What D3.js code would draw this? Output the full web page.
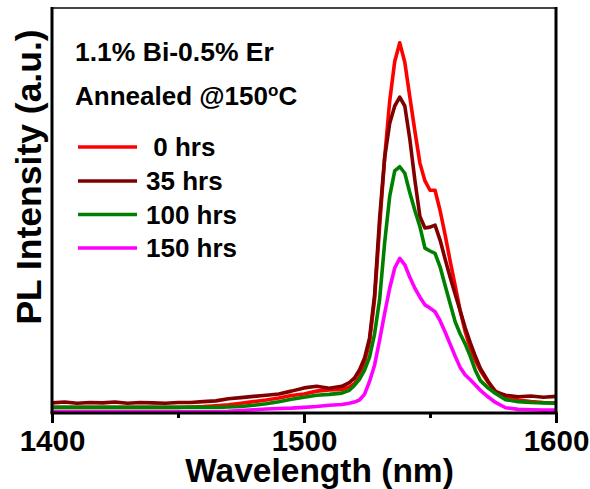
<!DOCTYPE html>
<html>
<head>
<meta charset="utf-8">
<script src="https://cdn.jsdelivr.net/npm/d3@7"></script>
<style>
  body { margin: 0; background: #fff; }
  svg { display: block; }
  text { font-family: "Liberation Sans", Arial, sans-serif; font-weight: bold; fill: #000; }
</style>
</head>
<body>
<div id="chart"></div>
<script>
// wavelength grid (nm) shared by all spectra
var wavelength = [1400,1405,1410,1415,1420,1425,1430,1435,1440,1445,1450,1455,1460,1465,1470,1475,1480,1485,1490,1495,1500,1505,1510,1515,
  1518,1520,1522,1524,1526,1528,1530,1532,1534,1536,1538,1540,1542,1544,1546,1548,1550,1552,1554,1556,1558,1560,1562,1564,1566,1568,1570,
  1573,1576,1580,1585,1590,1595,1600];

// PL intensity (a.u.)
var pl0 = [1.4,1.4,1.4,1.4,1.4,1.4,1.4,1.4,1.4,1.4,1.4,1.5,1.6,1.8,2.0,2.4,2.8,3.2,3.7,4.3,4.7,5.4,5.7,5.8,
  6.4,7.2,9.0,12.5,17.5,28,46,63,77,86.8,91.4,86.6,78,69.6,61.7,57.3,55,55,50,44,37.5,31.4,25.2,20,16,13,10.5,
  7.6,5.4,4.1,3.2,2.8,2.6,2.5];
var pl35 = [2.5,2.7,2.4,2.6,2.5,2.7,2.4,2.6,2.5,2.4,2.6,2.6,2.8,3.0,3.5,3.8,4.1,4.4,4.7,5.4,6.2,6.6,6.1,6.6,
  7.5,8.6,10.6,13.5,18.5,29,48,63,71.5,75.8,78,75.8,67.6,57.5,48.5,45.7,45.9,46.4,42.7,38,33.5,29.3,25.2,21,17.3,14,11,
  7.9,5.2,4.4,4.0,4.2,3.9,4.1];
var pl100 = [1.4,1.4,1.4,1.4,1.4,1.4,1.4,1.4,1.4,1.4,1.4,1.4,1.4,1.4,1.5,1.6,1.9,2.3,2.8,3.4,3.9,4.4,4.6,4.9,
  5.6,6.8,8.3,10.5,13.8,19.5,28,42,53.5,59.8,60.8,59.2,54.4,50,46,40.7,40,39.4,36.1,31.5,27,22.5,19.5,17,14,10.5,8,
  6.2,4.8,3.3,2.8,2.6,2.5,2.4];
var pl150 = [0.3,0.3,0.3,0.3,0.3,0.3,0.3,0.3,0.3,0.3,0.3,0.3,0.3,0.3,0.4,0.6,0.8,1.0,1.1,1.2,1.4,1.6,1.9,2.1,
  2.4,2.7,3.2,4.6,7.8,11.8,18,24.6,30.8,35.8,38.2,36.6,33.5,30.8,28.6,26.7,25.9,25,22.8,20,17,14,11.2,9.4,8.2,6.9,5.6,
  4.0,2.6,1.3,0.9,0.8,0.7,0.7];

var seriesNames = [" 0 hrs", "35 hrs", "100 hrs", "150 hrs"];
var seriesColors = ["#ff0000", "#800000", "#008000", "#ff00ff"];
var seriesValues = [pl0, pl35, pl100, pl150];
var majorTicks = [1400, 1500, 1600];
var minorTicks = [1450, 1550];

var width = 590, height = 489;
var plotLeft = 52, plotRight = 556, plotTop = 8, plotBottom = 413;

var svg = d3.select("#chart").append("svg")
  .attr("width", width)
  .attr("height", height);

var x = d3.scaleLinear().domain([1400, 1600]).range([plotLeft, plotRight]);
var y = d3.scaleLinear().domain([0, 100]).range([plotBottom, plotTop]);

svg.append("clipPath").attr("id", "plotclip")
  .append("rect").attr("x", plotLeft).attr("y", plotTop)
  .attr("width", plotRight - plotLeft).attr("height", plotBottom - plotTop);

var line = d3.line()
  .x(function(d) { return x(d[0]); })
  .y(function(d) { return y(d[1]); });

var g = svg.append("g").attr("clip-path", "url(#plotclip)");
seriesValues.forEach(function(vals, i) {
  var pts = wavelength.map(function(w, j) { return [w, vals[j]]; });
  g.append("path")
    .datum(pts)
    .attr("d", line)
    .attr("fill", "none")
    .attr("stroke", seriesColors[i])
    .attr("stroke-width", 3.6)
    .attr("stroke-linejoin", "round");
});

// frame
svg.append("line").attr("x1", plotLeft).attr("x2", plotRight).attr("y1", plotTop).attr("y2", plotTop)
  .attr("stroke", "#444").attr("stroke-width", 2);
svg.append("line").attr("x1", plotRight).attr("x2", plotRight).attr("y1", plotTop - 1).attr("y2", plotBottom)
  .attr("stroke", "#000").attr("stroke-width", 3);
svg.append("line").attr("x1", plotLeft).attr("x2", plotLeft).attr("y1", plotTop - 1).attr("y2", plotBottom)
  .attr("stroke", "#000").attr("stroke-width", 3);

// x axis
var xAxis = svg.append("g")
  .attr("transform", "translate(0," + plotBottom + ")")
  .call(d3.axisBottom(x).tickValues(majorTicks).tickSize(10).tickPadding(9).tickFormat(d3.format("d")));
xAxis.select(".domain").attr("stroke-width", 3).attr("d", "M" + (plotLeft - 1.5) + ",0H" + (plotRight + 1.5));
xAxis.selectAll(".tick line").attr("stroke-width", 3);
xAxis.selectAll(".tick text")
  .attr("font-size", 29.5)
  .attr("dy", null)
  .attr("y", 38)
  .style("font-family", "'Liberation Sans', Arial, sans-serif")
  .style("font-weight", "bold");

var minor = svg.append("g")
  .attr("transform", "translate(0," + plotBottom + ")")
  .call(d3.axisBottom(x).tickValues(minorTicks).tickSize(5).tickFormat(""));
minor.select(".domain").remove();
minor.selectAll(".tick line").attr("stroke-width", 3);

// axis titles
svg.append("text")
  .attr("x", 319.5)
  .attr("y", 482)
  .attr("text-anchor", "middle")
  .attr("font-size", 33.5)
  .text("Wavelength (nm)");

svg.append("text")
  .attr("transform", "translate(41,177) rotate(-90)")
  .attr("text-anchor", "middle")
  .attr("font-size", 35.5)
  .text("PL Intensity (a.u.)");

// annotations
svg.append("text")
  .attr("x", 75).attr("y", 61)
  .attr("font-size", 26.5)
  .text("1.1% Bi-0.5% Er");

var ann = svg.append("text")
  .attr("x", 75).attr("y", 105)
  .attr("font-size", 26);
ann.append("tspan").text("Annealed @150");
ann.append("tspan").attr("font-size", 17).attr("dy", -9).text("o");
ann.append("tspan").attr("dy", 9).text("C");

// legend
var legendY = [147, 181, 214.5, 248];
var legend = svg.append("g");
seriesNames.forEach(function(name, i) {
  legend.append("line")
    .attr("x1", 78).attr("x2", 137)
    .attr("y1", legendY[i]).attr("y2", legendY[i])
    .attr("stroke", seriesColors[i])
    .attr("stroke-width", 3.3);
  legend.append("text")
    .attr("x", 146)
    .attr("y", legendY[i] + 9)
    .attr("font-size", 26)
    .attr("xml:space", "preserve")
    .style("white-space", "pre")
    .text(name);
});
</script>
</body>
</html>
